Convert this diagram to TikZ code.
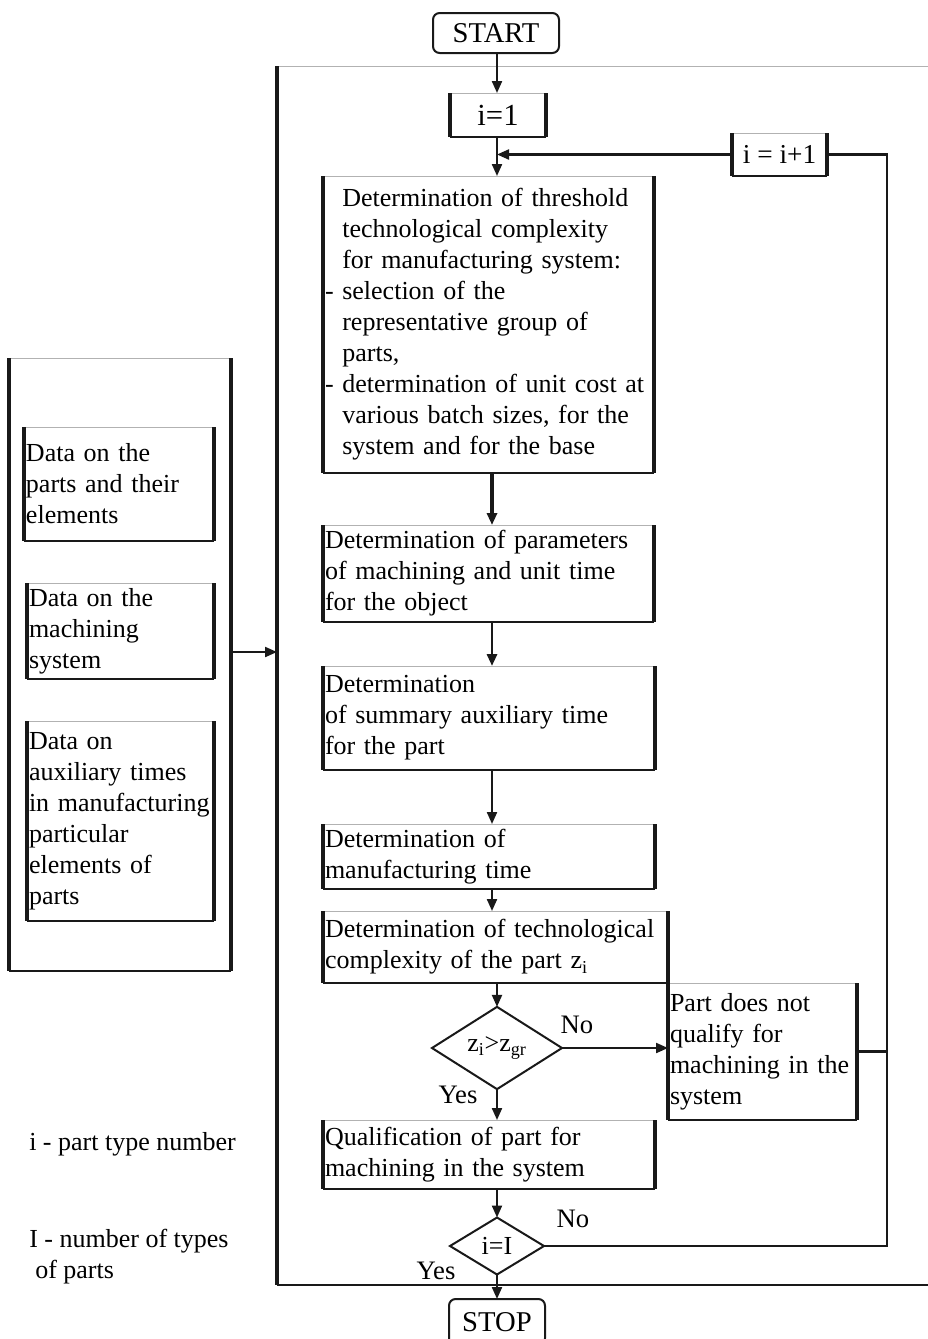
\documentclass[tikz,border=0pt]{standalone}
\usepackage{fontspec}
\setmainfont{Liberation Serif}
\usetikzlibrary{arrows.meta,shapes.geometric}
\newcommand\boxedges[1]{%
  \draw[topedge] (#1.north west) -- (#1.north east);
  \draw[sideedge] (#1.north west) -- (#1.south west) (#1.north east) -- (#1.south east);
  \draw[botedge] (#1.south west) -- (#1.south east);}
\newcommand\pnode[6]{%
  \pgfmathsetmacro\mywd{(#4-#2)*0.75}%
  \pgfmathsetmacro\myht{(#5-#3)*0.75}%
  \pgfmathsetmacro\mytw{(#4-#2)*0.75-3}%
  \node[pbox, minimum width=\mywd pt, minimum height=\myht pt, text width=\mytw pt] (#1) at ({(#2+#4)/2},{(#3+#5)/2}) {#6};%
  \boxedges{#1}}
\begin{document}
\begin{tikzpicture}[x=0.75pt,y=-0.75pt,
  txt/.style={font=\fontsize{19.5}{23.25}\selectfont},
  pbox/.style={rectangle, inner xsep=1.5pt, inner ysep=0pt, outer sep=0pt, align=left, txt,
    execute at begin node={\hyphenpenalty=10000\exhyphenpenalty=10000}},
  topedge/.style={line width=0.6pt, black!30},
  sideedge/.style={line width=2.8pt, black!90},
  botedge/.style={line width=1.7pt, black!90},
  conn/.style={line width=1.6pt, black!90, -{Triangle[length=9pt,width=7.5pt]}},
  plain/.style={line width=1.6pt, black!90},
  term/.style={rectangle, rounded corners=5pt, draw=black!90, line width=1.5pt, inner sep=0pt, outer sep=0pt, font=\fontsize{21.5}{24}\selectfont},
  dia/.style={diamond, draw=black!90, line width=1.5pt, inner sep=0pt, outer sep=0pt, txt},
  lbl/.style={font=\fontsize{20}{24}\selectfont, inner sep=0pt}]
\useasboundingbox[fill=white] (0,0) rectangle (928,1339);
% outer frame
\coordinate (fTL) at (277,66);
\coordinate (fTR) at (928,66);
\coordinate (fBL) at (277,1285);
\coordinate (fBR) at (928,1285);
\draw[topedge] (fTL) -- (fTR);
\draw[plain, line width=1.1pt] (fBL) -- (fBR);
\draw[sideedge] (fTL) -- (fBL);
% terminals
\node[term, minimum width=94.5pt, minimum height=30pt] (start) at (496,33) {START};
\node[term, minimum width=72pt, minimum height=34.5pt] (stop) at (497,1322) {STOP};
% counters
\node[pbox, font=\fontsize{23}{26}\selectfont, minimum width=72pt, minimum height=33pt] (i1) at (498,115) {i=1};
\boxedges{i1}
\node[pbox, font=\fontsize{20.5}{24}\selectfont, minimum width=71.25pt, minimum height=32.25pt] (inc) at (779.5,154.5) {i = i+1};
\boxedges{inc}
% process boxes
\pnode{b1}{323}{176}{654}{473}{\hphantom{-~}Determination of threshold\\
\hphantom{-~}technological complexity\\
\hphantom{-~}for manufacturing system:\\
-~selection of the\\
\hphantom{-~}representative group of\\
\hphantom{-~}parts,\\
-~determination of unit cost at\\
\hphantom{-~}various batch sizes, for the\\
\hphantom{-~}system and for the base}
\pnode{b2}{323}{525}{654}{622}{Determination of parameters\\of machining and unit time\\for the object}
\pnode{b3}{323}{666}{655}{770}{Determination\\of summary auxiliary time\\for the part}
\pnode{b4}{323}{824}{655}{889}{Determination of\\manufacturing time}
\pnode{b5}{323}{911}{668}{983}{Determination of technological\\complexity of the part z\textsubscript{i}}
\pnode{b6}{668}{983}{857}{1120}{Part does not\\qualify for\\machining in the\\system}
\pnode{b7}{323}{1120}{655}{1189}{Qualification of part for\\machining in the system}
% data panel
\pnode{datapanel}{9}{358}{231}{971}{}
\pnode{da}{24}{427}{214}{541}{Data on the\\parts and their\\elements}
\pnode{db}{27}{583}{214}{679}{Data on the\\machining\\system}
\pnode{dc}{27}{721}{214}{921}{Data on\\auxiliary times\\in~manufacturing\\particular\\elements of\\parts}
% decisions
\node[dia, minimum width=97.5pt, minimum height=57pt] (d1) at (497,1048) {z\textsubscript{i}>z\textsubscript{gr}};
\node[dia, minimum width=70.5pt, minimum height=42.75pt] (d2) at (497,1246) {i=I};
% labels
\node[lbl, anchor=base] (no1) at (577,1033) {No};
\node[lbl, anchor=base] (yes1) at (458,1103) {Yes};
\node[lbl, anchor=base] (no2) at (573,1227) {No};
\node[lbl, anchor=base] (yes2) at (436,1279) {Yes};
% legend
\node[txt, inner sep=0pt, anchor=base west] (leg1) at (29,1150) {i - part type number};
\node[txt, inner sep=0pt, anchor=north west, align=left] (leg2) at (29,1229) {I - number of types\\\hspace*{4.5pt}of parts};
% connectors
\coordinate (ax) at (497,0);
\coordinate (ax2) at (492,0);
\coordinate (loopx) at (887,0);
\coordinate (arr) at (0,652);
\draw[conn] (start.south -| ax) -- (i1.north -| ax);
\draw[conn] (i1.south -| ax) -- (b1.north -| ax);
\draw[conn] (inc.west) -- (inc.west -| ax);
\draw[conn, line width=3pt] (b1.south -| ax2) -- (b2.north -| ax2);
\draw[conn, line width=2.2pt] (b2.south -| ax2) -- (b3.north -| ax2);
\draw[conn] (b3.south -| ax2) -- (b4.north -| ax2);
\draw[conn] (b4.south -| ax2) -- (b5.north -| ax2);
\draw[conn] (b5.south -| ax) -- (d1.north);
\draw[conn] (d1.east) -- (d1.east -| b6.west);
\draw[conn] (d1.south) -- (b7.north -| d1.south);
\draw[conn] (b7.south -| ax) -- (d2.north);
\draw[conn] (d2.south) -- (stop.north);
\draw[plain] (b6.east) -- (b6.east -| loopx);
\draw[plain] (d2.east) -- (d2.east -| loopx) -- (inc.east -| loopx) -- (inc.east);
\draw[conn] (datapanel.east |- arr) -- (fTL |- arr);
\end{tikzpicture}
\end{document}
